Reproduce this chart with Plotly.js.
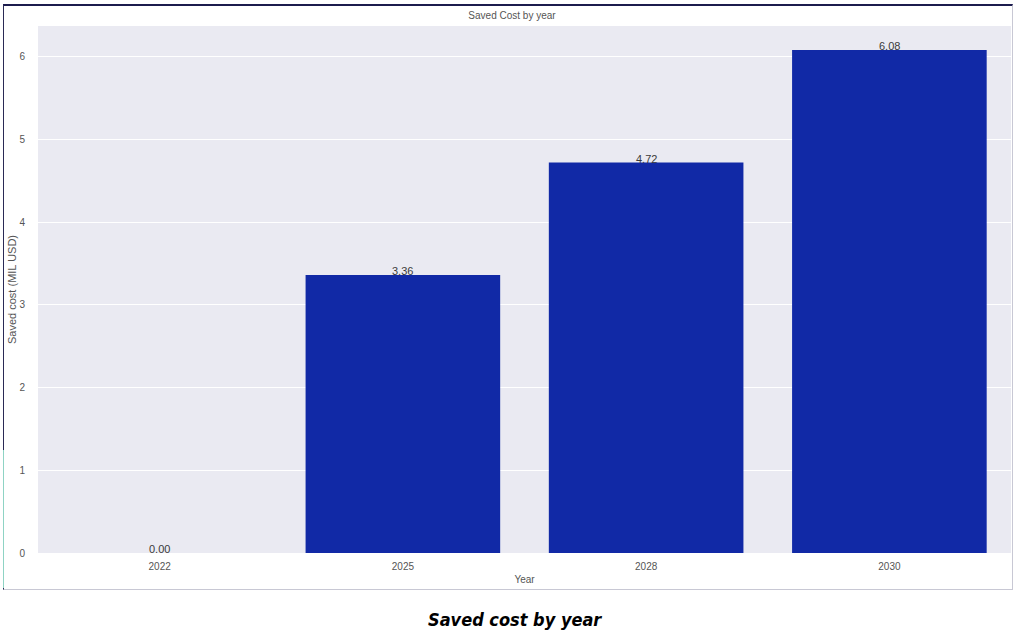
<!DOCTYPE html>
<html>
<head>
<meta charset="utf-8">
<script src="https://cdn.plot.ly/plotly-3.0.1.min.js"></script>
<style>
html,body{margin:0;padding:0;background:#fff;}
#wrap{position:relative;width:1024px;height:637px;}
#chart{width:1024px;height:637px;}
#frame{position:absolute;left:3px;top:4px;width:1008px;height:583px;border-top:2px solid #1c1c4e;border-left:1px solid #2a2a55;border-right:1px solid #c8c8d4;border-bottom:1px solid #c8c8d4;pointer-events:none;}
#frame2{position:absolute;left:3px;top:450px;width:1px;height:138px;background:#8fd3c4;pointer-events:none;}
</style>
</head>
<body>
<div id="wrap"><div id="chart"></div><div id="frame"></div><div id="frame2"></div></div>
<script>
const years = ['2022', '2025', '2028', '2030'];
const savedCost = [0.00, 3.36, 4.72, 6.08];
const yTicks = [0, 1, 2, 3, 4, 5, 6];

const labelAnnotations = years.map((yr, i) => ({
  x: i, y: savedCost[i], xref: 'x', yref: 'y',
  text: savedCost[i].toFixed(2), showarrow: false,
  yanchor: 'bottom', yshift: -4,
  font: {family: 'Liberation Sans, Arial, sans-serif', size: 11, color: '#3a3a3a'}
}));

const trace = {
  type: 'bar', x: years, y: savedCost,
  marker: {color: '#1129a6', line: {width: 0}},
  hoverinfo: 'none'
};

const layout = {
  width: 1024, height: 637,
  margin: {l: 38, r: 13, t: 26, b: 84},
  paper_bgcolor: '#ffffff', plot_bgcolor: '#eaeaf2',
  bargap: 0.2,
  showlegend: false,
  font: {family: 'Liberation Sans, Arial, sans-serif', size: 10, color: '#555'},
  title: {text: 'Saved Cost by year', x: 0.5, xanchor: 'center', y: 0.975, yanchor: 'middle', yref: 'container',
          font: {size: 10, color: '#555'}},
  xaxis: {
    type: 'category', range: [-0.5, 3.5], showgrid: false, zeroline: false, showline: false,
    ticks: 'outside', ticklen: 4, tickcolor: 'rgba(0,0,0,0)',
    tickfont: {size: 10, color: '#555'},
    title: {text: 'Year', standoff: 4, font: {size: 10, color: '#555'}}
  },
  yaxis: {
    range: [0, 6.37], tickvals: yTicks, ticktext: yTicks.map(String),
    showgrid: true, gridcolor: '#ffffff', gridwidth: 1, zeroline: false, showline: false,
    ticks: 'outside', ticklen: 10, tickcolor: 'rgba(0,0,0,0)',
    tickfont: {size: 10, color: '#555'},
    title: {text: 'Saved cost (MIL USD)', standoff: 0, font: {size: 11, color: '#555'}}
  },
  annotations: labelAnnotations.concat([{
    text: '<b><i>Saved cost by year</i></b>', xref: 'paper', yref: 'paper',
    x: 0.49, y: -0.127, xanchor: 'center', yanchor: 'middle', showarrow: false,
    font: {family: 'DejaVu Sans Condensed, Liberation Sans Narrow, sans-serif', size: 18, color: '#000'}
  }])
};

Plotly.newPlot('chart', [trace], layout, {displayModeBar: false, staticPlot: true});
</script>
</body>
</html>
